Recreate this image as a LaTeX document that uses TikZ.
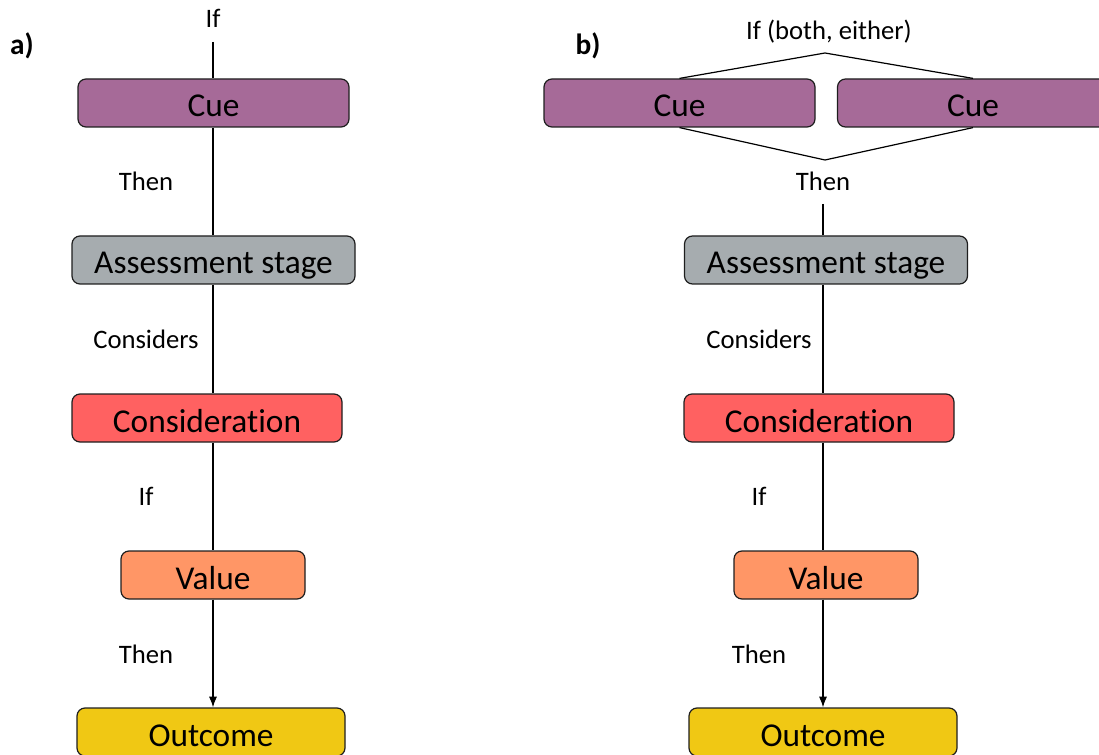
\documentclass[tikz,border=0pt]{standalone}
\usepackage{fontspec}
\setmainfont{Carlito}[Ligatures=NoCommon]
\usetikzlibrary{arrows.meta}
\definecolor{cuecol}{RGB}{166,106,152}
\definecolor{asscol}{RGB}{166,172,175}
\definecolor{concol}{RGB}{255,97,97}
\definecolor{valcol}{RGB}{255,150,102}
\definecolor{outcol}{RGB}{240,200,20}
\definecolor{edgecol}{RGB}{30,30,30}
\tikzset{
  box/.style={draw=edgecol, line width=0.9pt, rounded corners=6pt, minimum height=36pt, inner sep=0pt,
    text height=23pt, text depth=2pt,
    font=\fontsize{25}{30}\selectfont, text=black},
  lbl/.style={font=\fontsize{20}{24}\selectfont, inner sep=0pt, text=black},
  tag/.style={font=\fontsize{22}{26}\selectfont\bfseries, inner sep=0pt, text=black},
  conn/.style={draw=black, line width=0.9pt},
  arr/.style={conn, -{Latex[length=8pt,width=6pt]}}
}
\begin{document}
\begin{tikzpicture}[x=0.75pt,y=-0.75pt]
\useasboundingbox (0,0) rectangle (1099,755);
% ---------- a)
\node[tag] (la) at (22,46) {a)};
\node[lbl] (ifA) at (213,18) {If};
\coordinate (ifAend) at (213,42);
\node[box, fill=cuecol, minimum width=203.25pt] (cueL) at (213.5,103) {Cue};
\node[box, fill=asscol, minimum width=212.25pt] (assL) at (213.5,260) {Assessment stage};
\node[box, fill=concol, minimum width=202.5pt] (conL) at (207,418) {Consideration};
\node[box, fill=valcol, minimum width=138pt] (valL) at (213,575) {Value};
\node[box, fill=outcol, minimum width=201pt] (outL) at (211,732) {Outcome};
\node[lbl] (thenA1) at (146,181) {Then};
\node[lbl] (consA) at (146,339) {Considers};
\node[lbl] (ifA2) at (146,496) {If};
\node[lbl] (thenA2) at (146,654) {Then};
\coordinate (xL) at (213,0);
\draw[conn] (ifAend) -- (ifAend |- cueL.north);
\draw[conn] (xL |- cueL.south) -- (xL |- assL.north);
\draw[conn] (xL |- assL.south) -- (xL |- conL.north);
\draw[conn] (xL |- conL.south) -- (xL |- valL.north);
\draw[arr] (xL |- valL.south) -- (xL |- outL.north);
% ---------- b)
\node[tag] (lb) at (588,46) {b)};
\node[lbl] (ifB) at (829,32) {If (both, either)};
\node[box, fill=cuecol, minimum width=203.25pt] (cueR1) at (679.5,103) {Cue};
\node[box, fill=cuecol, minimum width=203.25pt] (cueR2) at (973,103) {Cue};
\coordinate (apexT) at (825,53);
\coordinate (apexB) at (825,160);
\draw[conn] (cueR1.north) -- (apexT) -- (cueR2.north);
\draw[conn] (cueR1.south) -- (apexB) -- (cueR2.south);
\node[lbl] (thenB1) at (823,181) {Then};
\coordinate (thenBend) at (823,204);
\node[box, fill=asscol, minimum width=212.25pt] (assR) at (826,260) {Assessment stage};
\node[box, fill=concol, minimum width=202.5pt] (conR) at (819,418) {Consideration};
\node[box, fill=valcol, minimum width=138pt] (valR) at (826,575) {Value};
\node[box, fill=outcol, minimum width=201pt] (outR) at (823,732) {Outcome};
\node[lbl] (consB) at (759,339) {Considers};
\node[lbl] (ifB2) at (759,496) {If};
\node[lbl] (thenB2) at (759,654) {Then};
\draw[conn] (thenBend) -- (thenBend |- assR.north);
\draw[conn] (thenBend |- assR.south) -- (thenBend |- conR.north);
\draw[conn] (thenBend |- conR.south) -- (thenBend |- valR.north);
\draw[arr] (thenBend |- valR.south) -- (thenBend |- outR.north);
\end{tikzpicture}
\end{document}
